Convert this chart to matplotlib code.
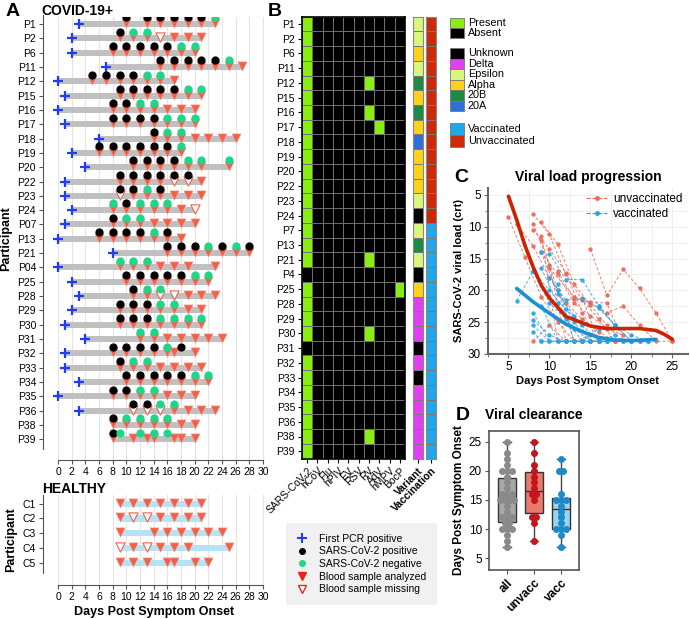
import numpy as np
import matplotlib
matplotlib.use("Agg")
import matplotlib.pyplot as plt
from matplotlib.colors import ListedColormap
from matplotlib.lines import Line2D
from matplotlib.patches import Rectangle

plt.rcParams['font.family'] = ['Liberation Sans', 'DejaVu Sans']

# ---------------- panel A : sampling timeline ----------------
covid_ids = ['P1', 'P2', 'P6', 'P11', 'P12', 'P15', 'P16', 'P17', 'P18', 'P19', 'P20', 'P22', 'P23', 'P24',
             'P07', 'P13', 'P21', 'P04', 'P25', 'P28', 'P29', 'P30', 'P31', 'P32', 'P33', 'P34', 'P35',
             'P36', 'P38', 'P39']
pcr_day = [3, 2, 2, 7, 0, 1, 0, 1, 6, 2, 4, 1, 1, 2,
           1, 0, 8, 0, 2, 3, 2, 1, 4, 1, 1, 3, 0, 3, None, None]
pos_days = [[10, 13, 15, 17, 19, 21], [9], [8, 10, 12, 14, 16], [15, 17, 19, 21, 23], [5, 7, 9, 11],
            [9, 11, 13, 15, 17], [8, 10], [8, 10, 12, 14], [14], [6, 8, 10, 12, 14, 16], [11, 13, 15, 17],
            [9, 11, 13, 15, 17, 19], [9, 11, 15], [10],
            [8], [6, 8, 10, 12, 16], [16, 18, 20, 24, 28], [], [10, 12, 14, 16, 18], [11], [9, 11, 13],
            [9, 11, 13], [], [8, 10, 12, 14, 18], [9], [10, 12, 14, 16, 18], [8, 10], [11, 13], [8], [8]]
neg_days = [[23], [11, 13], [18, 20], [25], [13, 15], [19, 21], [12, 14], [16, 18, 20], [16, 18], [18],
            [19, 21, 25], [], [13], [8, 12, 14, 16],
            [10, 12], [14], [22, 26], [9, 11, 13], [20, 22], [13, 15], [15, 17], [15, 17, 19, 21], [12, 14],
            [16], [11, 13], [20, 22], [12, 14], [15, 17], [10, 12, 14, 16], [9, 12, 14, 16]]
blood_ok = [[10, 13, 15, 17, 19, 21, 23], [9, 11, 13, 17, 19, 21], [8, 10, 12, 14, 16, 18, 20],
            [15, 17, 19, 21, 23, 25, 27], [5, 7, 9, 11, 13, 15, 17], [9, 11, 13, 15, 17, 19, 21],
            [8, 10, 12, 14, 16, 18, 20], [8, 10, 12, 14, 16, 18, 20], [14, 16, 18, 20, 22, 24, 26],
            [6, 8, 10, 12, 14, 16, 18], [11, 13, 15, 17, 19, 21, 25], [9, 11, 13, 15, 21],
            [11, 13, 15, 17, 19, 21], [8, 10, 12, 14, 16, 18],
            [8, 10, 12, 14, 16, 18, 20], [6, 8, 10, 12, 14, 16, 18], [16, 18, 20, 22, 24, 26, 28],
            [9, 11, 13, 15, 17, 19, 23], [10, 12, 14, 16, 18, 20, 22], [11, 13, 19, 21, 23],
            [9, 11, 13, 15, 17, 19, 21], [9, 11, 13, 15, 17, 19, 21], [12, 14, 16, 18, 20, 22, 24],
            [8, 10, 12, 14, 16, 17, 20], [9, 11, 13, 15, 17, 19, 21], [10, 12, 14, 16, 18, 20, 22],
            [8, 10, 12, 14, 16, 18, 20], [17, 19, 21, 23], [8, 10, 12, 14, 16, 18, 20],
            [8, 11, 13, 14, 17, 18, 20]]
blood_miss = [[], [15], [], [], [], [], [], [], [], [], [], [17, 19], [9], [20],
              [], [], [], [], [], [15, 17], [], [], [], [], [], [], [], [11, 13, 15], [], []]

healthy_ids = ['C1', 'C2', 'C3', 'C4', 'C5']
healthy_ok = [[9, 11, 13, 15, 17, 19, 21], [9, 15, 17, 19, 21], [9, 14, 16, 18, 20, 22, 24],
              [11, 15, 17, 19, 25], [9, 11, 13, 16, 17, 20, 22]]
healthy_miss = [[], [11, 13], [], [9, 13], []]

# ---------------- panel B : co-infections / variant / vaccination ----------------
heat_ids = ['P1', 'P2', 'P6', 'P11', 'P12', 'P15', 'P16', 'P17', 'P18', 'P19', 'P20', 'P22', 'P23', 'P24',
            'P7', 'P13', 'P21', 'P4', 'P25', 'P28', 'P29', 'P30', 'P31', 'P32', 'P33', 'P34', 'P35',
            'P36', 'P38', 'P39']
pathogens = ['SARS-CoV-2', 'hCoV', 'Flu', 'hPIV', 'EV', 'RSV', 'RV', 'AdV', 'hMPV', 'BocP']
sars_absent = ['P4', 'P31']
other_hits = [('P12', 'RV'), ('P16', 'RV'), ('P17', 'AdV'), ('P21', 'RV'), ('P25', 'BocP'),
              ('P30', 'RV'), ('P38', 'RV')]
variant = ['Epsilon', 'Epsilon', 'Alpha', 'Epsilon', '20B', 'Alpha', '20B', 'Alpha', '20A', 'Alpha',
           'Alpha', 'Alpha', 'Epsilon', 'Unknown', 'Epsilon', '20B', 'Epsilon', 'Unknown', 'Alpha',
           'Delta', 'Delta', 'Delta', 'Unknown', 'Delta', 'Unknown', 'Delta', 'Delta', 'Delta', 'Delta',
           'Delta']
vaccinated = [False] * 14 + [True] * 16
variant_names = ['Unknown', 'Delta', 'Epsilon', 'Alpha', '20B', '20A']
variant_colors = ['#000000', '#e040f0', '#d8f77a', '#ffd21a', '#1f8a45', '#2f6fdc']

# ---------------- panel C : viral load (days, ct) ----------------
vl_unvacc = [([10, 13, 15, 17, 19, 21, 23], [16.5, 21.0, 22.0, 23.5, 22.5, 25.5, 28]),
             ([9, 11, 13], [11.5, 28, 28]),
             ([8, 10, 12, 14, 16, 18, 20], [8.0, 11.2, 17.5, 21.5, 24.5, 28, 28]),
             ([15, 17, 19, 21, 23, 25], [13.5, 20.8, 16.7, 19.7, 23.6, 28]),
             ([5, 7, 9, 11, 13, 15], [8.5, 14.8, 21.0, 25.0, 28, 28]),
             ([9, 11, 13, 15, 17, 19, 21], [9.3, 12.7, 19.0, 22.3, 25.5, 28, 28]),
             ([8, 10, 12, 14], [9.5, 16.0, 28, 28]),
             ([8, 10, 12, 14, 16, 18, 20], [10.5, 13.5, 17.2, 23.5, 28, 28, 28]),
             ([14, 16, 18], [21.2, 28, 28]),
             ([6, 8, 10, 12, 14, 16, 18], [9.5, 13.0, 18.0, 22.0, 24.5, 26.5, 28]),
             ([11, 13, 15, 17, 19, 21, 25], [17.0, 21.3, 21.8, 22.0, 28, 28, 28]),
             ([9, 11, 13, 15, 17, 19], [14.0, 17.5, 22.0, 24.0, 26.0, 27.0]),
             ([9, 11, 13, 15], [12.0, 20.0, 28, 27.0]),
             ([8, 10, 12, 14, 16], [28, 25.5, 28, 28, 28])]
vl_vacc = [([8, 10, 12], [23.5, 28, 28]),
           ([6, 8, 10, 12, 14, 16], [21.6, 17.0, 22.0, 24.5, 28, 26.0]),
           ([16, 18, 20, 22], [22.5, 25.5, 27.0, 28]),
           ([9, 11, 13], [28, 28, 28]),
           ([10, 12, 14, 16, 18, 20, 22], [14.2, 18.3, 18.3, 22.5, 25.5, 28, 28]),
           ([11, 13, 15], [19.0, 28, 28]),
           ([9, 11, 13, 15, 17], [14.0, 20.5, 24.0, 28, 28]),
           ([9, 11, 13, 15, 17, 19, 21], [16.5, 22.0, 26.0, 28, 28, 28, 28]),
           ([12, 14], [28, 28]),
           ([8, 10, 12, 14, 16, 18], [17.0, 20.0, 23.0, 25.5, 28, 27.0]),
           ([9, 11, 13], [22.5, 28, 28]),
           ([10, 12, 14, 16, 18, 20, 22], [18.0, 21.5, 21.3, 22.8, 25.5, 28, 28]),
           ([8, 10, 12, 14], [24.7, 27.0, 28, 28]),
           ([11, 13, 15, 17], [20.0, 25.0, 28, 28]),
           ([8, 10, 12, 14, 16], [25.5, 28, 28, 28, 28]),
           ([8, 9, 12, 14, 16], [26.5, 28, 28, 28, 28])]
fit_unvacc_x = [5, 6, 7, 8, 9, 10, 12, 13, 15, 17, 19, 21, 23, 24, 25]
fit_unvacc_y = [5.2, 8.9, 12.9, 16.3, 19.2, 21.2, 24.1, 24.6, 25.6, 26.0, 26.0, 26.0, 26.3, 26.9, 27.7]
fit_vacc_x = [6, 8, 10, 12, 14, 16, 18, 20, 23]
fit_vacc_y = [19.7, 21.8, 23.6, 25.3, 26.5, 27.4, 27.8, 27.9, 27.7]

# ---------------- panel D : viral clearance ----------------
clear_unvacc = [25, 23, 21, 20, 19, 18, 17, 16, 16, 15, 12, 12, 11, 8]
clear_vacc = [22, 20, 20, 16, 15, 15, 15, 14, 13, 12, 11, 10, 10, 10, 9, 7]
clear_all = clear_unvacc + clear_vacc
clear_groups = ['all', 'unvacc', 'vacc']

RED = '#f2604a'
W, H = 690, 619


def pxbox(l, t, r, b):
    return [l / W, 1 - b / H, (r - l) / W, (b - t) / H]


def ftext(x, y, s, **kw):
    fig.text(x / W, 1 - y / H, s, **kw)


fig = plt.figure(figsize=(6.9, 6.19), dpi=100)


def timeline(ax, ids, pcr, pos, neg, ok, miss, bar_color):
    for i in range(len(ids)):
        days = ok[i] + miss[i]
        start = pcr[i] if pcr[i] is not None else min(days)
        end = max(days)
        ax.barh(i, end - start, left=start, height=0.42, color=bar_color, zorder=1)
        ax.scatter(ok[i], [i - 0.07] * len(ok[i]), marker='v', s=44, color=RED,
                   edgecolors='#f7a090', linewidths=0.4, zorder=3)
        if miss[i]:
            ax.scatter(miss[i], [i - 0.07] * len(miss[i]), marker='v', s=44, facecolors='white',
                       edgecolors=RED, linewidths=0.8, zorder=3)
        if pos is not None:
            ax.scatter(pos[i], [i - 0.47] * len(pos[i]), s=24, color='black', zorder=4)
            ax.scatter(neg[i], [i - 0.47] * len(neg[i]), s=24, color='#1ed68a', zorder=4)
        if pcr is not None and pcr[i] is not None:
            ax.plot(pcr[i], i, '+', ms=7.5, mew=1.6, color='#1f3cf2', zorder=4)
    ax.set_xlim(-2.2, 30.3)
    ax.set_xticks(range(0, 31, 2))
    ax.set_yticks(range(len(ids)))
    ax.set_yticklabels(ids)
    ax.grid(axis='x', color='#e4e4e4', lw=0.8)
    ax.set_axisbelow(True)
    for s in ['top', 'right']:
        ax.spines[s].set_visible(False)
    ax.spines['bottom'].set_bounds(0, 30)
    ax.spines['left'].set_bounds(-0.6, len(ids) - 0.3)
    for s in ['left', 'bottom']:
        ax.spines[s].set_color('#555555')
    ax.tick_params(labelsize=7.5, length=3, color='#555555', pad=2)
    ax.set_ylabel('Participant', fontsize=9, fontweight='bold')


axA = fig.add_axes(pxbox(43, 17, 265, 460))
timeline(axA, covid_ids, pcr_day, pos_days, neg_days, blood_ok, blood_miss, '#c0c0c0')
axA.set_ylim(30.45, -0.49)

axH = fig.add_axes(pxbox(43, 495, 265, 585))
timeline(axH, healthy_ids, [None] * 5, None, None, healthy_ok, healthy_miss, '#b6e2f6')
axH.set_ylim(5.51, -0.59)
axH.set_xlabel('Days Post Symptom Onset', fontsize=9, fontweight='bold', labelpad=3)

ftext(6, 12, 'A', fontsize=14, fontweight='bold', va='center')
ftext(41, 11, 'COVID-19+', fontsize=10, fontweight='bold', va='center')
ftext(42, 489, 'HEALTHY', fontsize=10, fontweight='bold', va='center')

handles = [Line2D([], [], ls='', marker='+', ms=7, mew=1.5, color='#1f3cf2'),
           Line2D([], [], ls='', marker='o', ms=4, color='black'),
           Line2D([], [], ls='', marker='o', ms=4, color='#1ed68a'),
           Line2D([], [], ls='', marker='v', ms=6, color='#e8261a'),
           Line2D([], [], ls='', marker='v', ms=6, mfc='white', mec='#e8261a')]
labels = ['First PCR positive', 'SARS-CoV-2 positive', 'SARS-CoV-2 negative',
          'Blood sample analyzed', 'Blood sample missing']
leg = fig.legend(handles, labels, loc='center', bbox_to_anchor=(361 / W, 1 - 564 / H),
                 fontsize=7.5, frameon=True, fancybox=False, facecolor='#eeeeee', edgecolor='none',
                 handlelength=1.2, handletextpad=1.0, labelspacing=0.25, borderpad=1.0,
                 borderaxespad=0)
leg.get_frame().set_linewidth(0)

# ---------------- panel B ----------------
mat = np.zeros((len(heat_ids), len(pathogens)))
for i, pid in enumerate(heat_ids):
    if pid not in sars_absent:
        mat[i, 0] = 1
for pid, pat in other_hits:
    mat[heat_ids.index(pid), pathogens.index(pat)] = 1

axB = fig.add_axes(pxbox(302, 16.6, 405, 458.6))
axB.pcolormesh(mat, cmap=ListedColormap(['black', '#88ee12']), vmin=0, vmax=1,
               edgecolors='#6e6e6e', linewidth=0.5)
axB.set_ylim(len(heat_ids), 0)
axB.set_yticks(np.arange(len(heat_ids)) + 0.5)
axB.set_yticklabels(heat_ids)
axB.set_xticks(np.arange(len(pathogens)) + 0.5)
axB.set_xticklabels(pathogens, rotation=45, ha='right', rotation_mode='anchor')
axB.tick_params(labelsize=7.5, length=3, pad=2)
for s in axB.spines.values():
    s.set_linewidth(1.2)

var_idx = np.array([[variant_names.index(v)] for v in variant])
axV = fig.add_axes(pxbox(413, 16.6, 423, 458.6))
axV.pcolormesh(var_idx, cmap=ListedColormap(variant_colors), vmin=-0.5, vmax=5.5,
               edgecolors='#777777', linewidth=0.5)
vac_idx = np.array([[1 if v else 0] for v in vaccinated])
axC2 = fig.add_axes(pxbox(426, 16.6, 436, 458.6))
axC2.pcolormesh(vac_idx, cmap=ListedColormap(['#cc2a08', '#22a8ea']), vmin=0, vmax=1,
                edgecolors='#777777', linewidth=0.5)
for ax, lab in [(axV, 'Variant'), (axC2, 'Vaccination')]:
    ax.set_ylim(len(heat_ids), 0)
    ax.set_yticks([])
    ax.set_xticks([0.5])
    ax.set_xticklabels([lab], rotation=45, ha='right', rotation_mode='anchor',
                       fontweight='bold', fontsize=7.5)
    ax.tick_params(length=3, pad=2)
    for s in ax.spines.values():
        s.set_color('#888888')

ftext(268, 12, 'B', fontsize=14, fontweight='bold', va='center')

# legend for B drawn in pixel space
axL = fig.add_axes(pxbox(448, 15, 560, 150))
axL.set_xlim(448, 560)
axL.set_ylim(150, 15)
axL.axis('off')
groups = [(18, ['Present', 'Absent'], ['#88ee12', 'black'], 10),
          (48, variant_names, variant_colors, 10.5),
          (123, ['Vaccinated', 'Unvaccinated'], ['#22a8ea', '#cc2a08'], 12)]
for top, names, cols, h in groups:
    for k, (nm, c) in enumerate(zip(names, cols)):
        axL.add_patch(Rectangle((450, top + k * h), 14, h, facecolor=c, edgecolor='#777777', lw=0.6))
        axL.text(468, top + k * h + h / 2, nm, fontsize=7.8, va='center')

# ---------------- panel C ----------------
axVL = fig.add_axes(pxbox(488, 188, 688, 354))
for xs, ys in vl_unvacc:
    axVL.plot(xs, ys, '--', color='#ea6a58', lw=0.7, marker='o', ms=2.2, alpha=0.85, dashes=(3, 2))
for xs, ys in vl_vacc:
    axVL.plot(xs, ys, '--', color='#28a4e6', lw=0.7, marker='o', ms=2.2, alpha=0.85, dashes=(3, 2))
axVL.plot(fit_unvacc_x, fit_unvacc_y, color='#cc2200', lw=2.6, solid_capstyle='round')
axVL.plot(fit_vacc_x, fit_vacc_y, color='#1c90d2', lw=2.6, solid_capstyle='round')
axVL.set_xlim(2.96, 26.9)
axVL.set_ylim(30, 3.9)
axVL.set_xticks([5, 10, 15, 20, 25])
axVL.set_yticks([5, 10, 15, 20, 25, 30])
axVL.set_xticks(np.arange(2.5, 27, 2.5), minor=True)
axVL.set_yticks(np.arange(7.5, 30, 2.5), minor=True)
axVL.grid(which='both', color='#ececec', lw=0.6)
axVL.set_axisbelow(True)
for s in ['top', 'right']:
    axVL.spines[s].set_visible(False)
for s in ['left', 'bottom']:
    axVL.spines[s].set_color('#666666')
    axVL.spines[s].set_linewidth(1.5)
axVL.tick_params(labelsize=8.5, length=3, color='#666666', pad=2)
axVL.tick_params(which='minor', length=2, color='#666666')
axVL.set_xlabel('Days Post Symptom Onset', fontsize=8, fontweight='bold', labelpad=2)
axVL.set_ylabel('SARS-CoV-2 viral load (crt)', fontsize=8, fontweight='bold', labelpad=3)
lh = [Line2D([], [], ls='--', color='#ea6a58', lw=0.8, marker='o', ms=2.5),
      Line2D([], [], ls='--', color='#28a4e6', lw=0.8, marker='o', ms=2.5)]
axVL.legend(lh, ['unvaccinated', 'vaccinated'], loc='upper right', fontsize=8.5, frameon=False,
            handlelength=1.8, borderaxespad=0.05, labelspacing=0.2, handletextpad=0.5)
ftext(454, 177, 'C', fontsize=14, fontweight='bold', va='center')
ftext(588, 177, 'Viral load progression', fontsize=10, fontweight='bold', va='center', ha='center')

# ---------------- panel D ----------------
axD = fig.add_axes(pxbox(489, 431, 579, 570))
data = [clear_all, clear_unvacc, clear_vacc]
fills = ['#a8a8a8', '#e87a6c', '#9bd3f4']
dots = ['#8a8a8a', '#c4141c', '#1e8bc8']
bp = axD.boxplot(data, positions=[1, 2, 3], widths=0.65, whis=(0, 100), patch_artist=True,
                 showfliers=False,
                 medianprops=dict(color='#333333', lw=1.0),
                 whiskerprops=dict(color='#444444', lw=1.0),
                 capprops=dict(color='#444444', lw=1.0),
                 boxprops=dict(edgecolor='#333333', lw=1.0))
for patch, c in zip(bp['boxes'], fills):
    patch.set_facecolor(c)
for k, (vals, c) in enumerate(zip(data, dots)):
    vals = np.array(vals)
    xs, ys = [], []
    for v in np.unique(vals):
        m = int((vals == v).sum())
        off = (np.arange(m) - (m - 1) / 2) * 0.17
        xs.extend(k + 1 + off)
        ys.extend([v] * m)
    axD.scatter(xs, ys, s=16, color=c, zorder=3)
axD.set_xlim(0.33, 3.67)
axD.set_ylim(3.0, 26.8)
axD.set_yticks([5, 10, 15, 20, 25])
axD.set_xticks([1, 2, 3])
axD.set_xticklabels(clear_groups, rotation=45, ha='right', rotation_mode='anchor',
                    fontweight='bold', fontsize=8.5)
for s in axD.spines.values():
    s.set_color('#555555')
    s.set_linewidth(1.2)
axD.tick_params(labelsize=8.5, length=3, color='#555555', pad=2)
axD.set_ylabel('Days Post Symptom Onset', fontsize=8.5, fontweight='bold', labelpad=3)
ftext(456, 415, 'D', fontsize=14, fontweight='bold', va='center')
ftext(534, 415, 'Viral clearance', fontsize=10, fontweight='bold', va='center', ha='center')

fig.savefig('out.png', dpi=100)
